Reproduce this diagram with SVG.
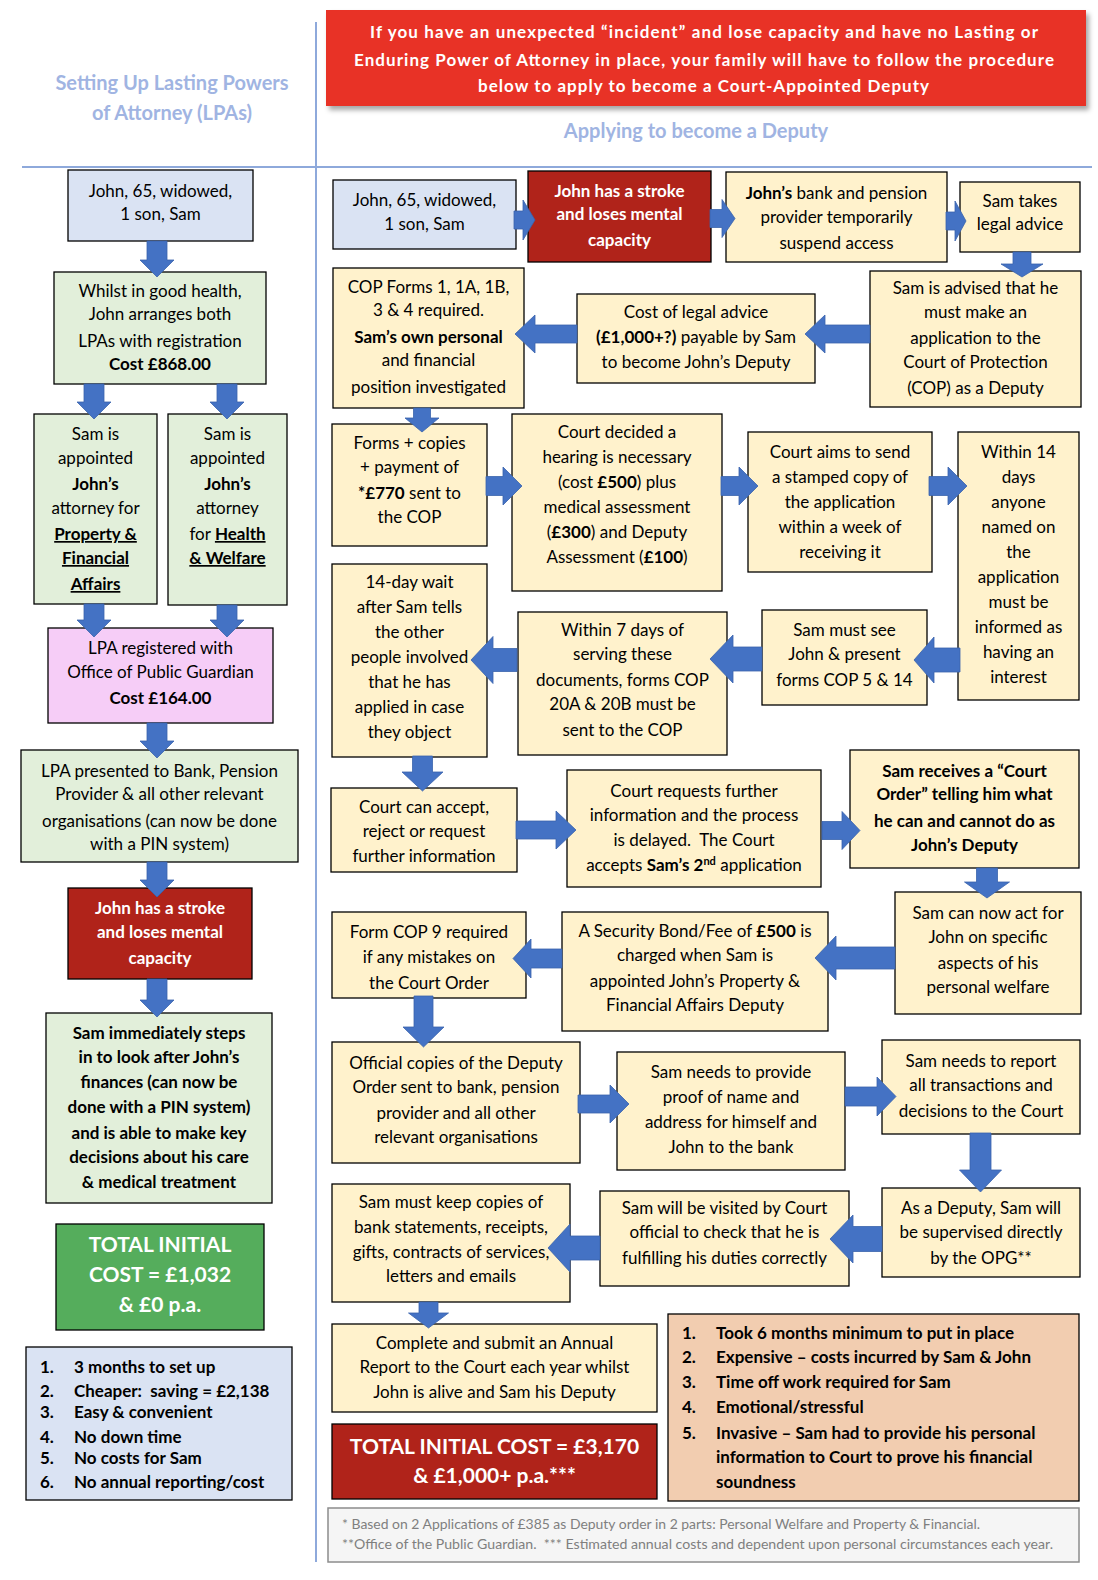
<svg xmlns="http://www.w3.org/2000/svg" width="1098" height="1580" viewBox="0 0 1098 1580">
<defs>
<filter id="sh" x="-5%" y="-10%" width="115%" height="130%"><feDropShadow dx="3" dy="4" stdDeviation="2.5" flood-color="#000" flood-opacity="0.35"/></filter>
<style>
.box{stroke:#000;stroke-width:1.3}
.blue{fill:#DAE3F3}.green{fill:#E2EFDA}.pink{fill:#F6CDF7}.red{fill:#B0231A}.cream{fill:#FFF2CC}.tot{fill:#55AD5C}.orange{fill:#F2CDB0}
.t{font-family:Lato,'Liberation Sans',sans-serif;font-size:17px;fill:#000;text-anchor:middle}
.s{text-anchor:start}
.b{font-weight:bold}
.u{text-decoration:underline}
.w{fill:#fff}
.big{font-size:21px}
.ttl{font-family:Lato,'Liberation Sans',sans-serif;font-size:20px;font-weight:bold;fill:#A0B4E2;text-anchor:middle}
.bn{font-family:Lato,'Liberation Sans',sans-serif;font-size:17px;font-weight:bold;fill:#fff}
.fn{font-family:Lato,'Liberation Sans',sans-serif;font-size:13.5px;fill:#7F7F7F}
.arrow{fill:#4472C4;stroke:#3A63AC;stroke-width:0.8}
.rule{stroke:#8EA9DB;stroke-width:2;fill:none}
</style>
</defs>
<rect width="1098" height="1580" fill="#fff"/>

<g id="layout">
<line class="rule" x1="316" y1="22" x2="316" y2="1562"/>
<line class="rule" x1="22" y1="167" x2="1092" y2="167" stroke="#A9BCE3"/>
<text class="ttl" x="172" y="90">Setting Up Lasting Powers</text>
<text class="ttl" x="172" y="120">of Attorney (LPAs)</text>
<text class="ttl" x="696" y="138">Applying to become a Deputy</text>
</g>

<g id="banner">
<rect x="326" y="10" width="760" height="96" fill="#E83325" filter="url(#sh)"/>
<text class="bn" x="370" y="38" textLength="668" lengthAdjust="spacing">If you have an unexpected “incident” and lose capacity and have no Lasting or</text>
<text class="bn" x="354" y="66" textLength="700" lengthAdjust="spacing">Enduring Power of Attorney in place, your family will have to follow the procedure</text>
<text class="bn" x="478" y="92" textLength="451" lengthAdjust="spacing">below to apply to become a Court-Appointed Deputy</text>
</g>

<!-- LEFT COLUMN -->
<g id="l-john">
<rect class="box blue" x="68" y="170" width="185" height="71"/>
<text class="t" x="160.5" y="197">John, 65, widowed,</text>
<text class="t" x="160.5" y="220">1 son, Sam</text>
</g>
<g id="l-arranges">
<rect class="box green" x="54" y="272" width="212" height="112"/>
<text class="t" x="160" y="297">Whilst in good health,</text>
<text class="t" x="160" y="320">John arranges both</text>
<text class="t" x="160" y="347">LPAs with registration</text>
<text class="t b" x="160" y="370">Cost £868.00</text>
</g>
<g id="l-property">
<rect class="box green" x="34" y="414" width="123" height="190"/>
<text class="t" x="95.5" y="440">Sam is</text>
<text class="t" x="95.5" y="464">appointed</text>
<text class="t b" x="95.5" y="490">John’s</text>
<text class="t" x="95.5" y="514">attorney for</text>
<text class="t b u" x="95.5" y="540">Property &amp;</text>
<text class="t b u" x="95.5" y="564">Financial</text>
<text class="t b u" x="95.5" y="590">Affairs</text>
</g>
<g id="l-health">
<rect class="box green" x="168" y="414" width="119" height="191"/>
<text class="t" x="227.5" y="440">Sam is</text>
<text class="t" x="227.5" y="464">appointed</text>
<text class="t b" x="227.5" y="490">John’s</text>
<text class="t" x="227.5" y="514">attorney</text>
<text class="t" x="227.5" y="540">for <tspan class="b u">Health</tspan></text>
<text class="t b u" x="227.5" y="564">&amp; Welfare</text>
</g>
<g id="l-registered">
<rect class="box pink" x="48" y="628" width="225" height="95"/>
<text class="t" x="160.5" y="654">LPA registered with</text>
<text class="t" x="160.5" y="678">Office of Public Guardian</text>
<text class="t b" x="160.5" y="704">Cost £164.00</text>
</g>
<g id="l-presented">
<rect class="box green" x="21" y="750" width="277" height="112"/>
<text class="t" x="159.5" y="777">LPA presented to Bank, Pension</text>
<text class="t" x="159.5" y="800">Provider &amp; all other relevant</text>
<text class="t" x="159.5" y="827">organisations (can now be done</text>
<text class="t" x="159.5" y="850">with a PIN system)</text>
</g>
<g id="l-stroke">
<rect class="box red" x="68" y="888" width="184" height="91"/>
<text class="t b w" x="160" y="914">John has a stroke</text>
<text class="t b w" x="160" y="938">and loses mental</text>
<text class="t b w" x="160" y="964">capacity</text>
</g>
<g id="l-steps">
<rect class="box green" x="46" y="1013" width="226" height="190"/>
<text class="t b" x="159" y="1039">Sam immediately steps</text>
<text class="t b" x="159" y="1063">in to look after John’s</text>
<text class="t b" x="159" y="1088">finances (can now be</text>
<text class="t b" x="159" y="1113">done with a PIN system)</text>
<text class="t b" x="159" y="1139">and is able to make key</text>
<text class="t b" x="159" y="1163">decisions about his care</text>
<text class="t b" x="159" y="1188">&amp; medical treatment</text>
</g>
<g id="l-total">
<rect class="box tot" x="56" y="1224" width="208" height="106"/>
<text class="t b w big" x="160" y="1252">TOTAL INITIAL</text>
<text class="t b w big" x="160" y="1282">COST = £1,032</text>
<text class="t b w big" x="160" y="1312">&amp; £0 p.a.</text>
</g>
<g id="l-list">
<rect class="box blue" x="26" y="1347" width="266" height="153"/>
<text class="t b s" x="40" y="1373">1.</text><text class="t b s" x="74" y="1373">3 months to set up</text>
<text class="t b s" x="40" y="1397">2.</text><text class="t b s" x="74" y="1397">Cheaper:&#160; saving = £2,138</text>
<text class="t b s" x="40" y="1418">3.</text><text class="t b s" x="74" y="1418">Easy &amp; convenient</text>
<text class="t b s" x="40" y="1443">4.</text><text class="t b s" x="74" y="1443">No down time</text>
<text class="t b s" x="40" y="1464">5.</text><text class="t b s" x="74" y="1464">No costs for Sam</text>
<text class="t b s" x="40" y="1488">6.</text><text class="t b s" x="74" y="1488">No annual reporting/cost</text>
</g>

<!-- RIGHT COLUMN -->
<g id="r-john">
<rect class="box blue" x="333" y="180" width="183" height="69"/>
<text class="t" x="424.5" y="206">John, 65, widowed,</text>
<text class="t" x="424.5" y="230">1 son, Sam</text>
</g>
<g id="r-stroke">
<rect class="box red" x="528" y="171" width="183" height="91"/>
<text class="t b w" x="619.5" y="197">John has a stroke</text>
<text class="t b w" x="619.5" y="220">and loses mental</text>
<text class="t b w" x="619.5" y="246">capacity</text>
</g>
<g id="r-bank">
<rect class="box cream" x="726" y="172" width="221" height="90"/>
<text class="t" x="836.5" y="199"><tspan class="b">John’s</tspan> bank and pension</text>
<text class="t" x="836.5" y="223">provider temporarily</text>
<text class="t" x="836.5" y="249">suspend access</text>
</g>
<g id="r-takes">
<rect class="box cream" x="960" y="182" width="120" height="70"/>
<text class="t" x="1020" y="207">Sam takes</text>
<text class="t" x="1020" y="230">legal advice</text>
</g>
<g id="r-advised">
<rect class="box cream" x="870" y="271" width="211" height="136"/>
<text class="t" x="975.5" y="294">Sam is advised that he</text>
<text class="t" x="975.5" y="318">must make an</text>
<text class="t" x="975.5" y="344">application to the</text>
<text class="t" x="975.5" y="368">Court of Protection</text>
<text class="t" x="975.5" y="394">(COP) as a Deputy</text>
</g>
<g id="r-cost">
<rect class="box cream" x="577" y="294" width="238" height="89"/>
<text class="t" x="696" y="318">Cost of legal advice</text>
<text class="t" x="696" y="343"><tspan class="b">(£1,000+?)</tspan> payable by Sam</text>
<text class="t" x="696" y="368">to become John’s Deputy</text>
</g>
<g id="r-forms">
<rect class="box cream" x="333" y="268" width="191" height="140"/>
<text class="t" x="428.5" y="293">COP Forms 1, 1A, 1B,</text>
<text class="t" x="428.5" y="316">3 &amp; 4 required.</text>
<text class="t b" x="428.5" y="343">Sam’s own personal</text>
<text class="t" x="428.5" y="366">and financial</text>
<text class="t" x="428.5" y="393">position investigated</text>
</g>
<g id="r-payment">
<rect class="box cream" x="332" y="424" width="155" height="122"/>
<text class="t" x="409.5" y="449">Forms + copies</text>
<text class="t" x="409.5" y="473">+ payment of</text>
<text class="t" x="409.5" y="499"><tspan class="b">*£770</tspan> sent to</text>
<text class="t" x="409.5" y="523">the COP</text>
</g>
<g id="r-hearing">
<rect class="box cream" x="512" y="414" width="210" height="177"/>
<text class="t" x="617" y="438">Court decided a</text>
<text class="t" x="617" y="463">hearing is necessary</text>
<text class="t" x="617" y="488">(cost <tspan class="b">£500</tspan>) plus</text>
<text class="t" x="617" y="513">medical assessment</text>
<text class="t" x="617" y="538">(<tspan class="b">£300</tspan>) and Deputy</text>
<text class="t" x="617" y="563">Assessment (<tspan class="b">£100</tspan>)</text>
</g>
<g id="r-stamped">
<rect class="box cream" x="748" y="432" width="184" height="140"/>
<text class="t" x="840" y="458">Court aims to send</text>
<text class="t" x="840" y="483">a stamped copy of</text>
<text class="t" x="840" y="508">the application</text>
<text class="t" x="840" y="533">within a week of</text>
<text class="t" x="840" y="558">receiving it</text>
</g>
<g id="r-within14">
<rect class="box cream" x="958" y="432" width="121" height="268"/>
<text class="t" x="1018.5" y="458">Within 14</text>
<text class="t" x="1018.5" y="483">days</text>
<text class="t" x="1018.5" y="508">anyone</text>
<text class="t" x="1018.5" y="533">named on</text>
<text class="t" x="1018.5" y="558">the</text>
<text class="t" x="1018.5" y="583">application</text>
<text class="t" x="1018.5" y="608">must be</text>
<text class="t" x="1018.5" y="633">informed as</text>
<text class="t" x="1018.5" y="658">having an</text>
<text class="t" x="1018.5" y="683">interest</text>
</g>
<g id="r-wait">
<rect class="box cream" x="332" y="564" width="155" height="193"/>
<text class="t" x="409.5" y="588">14-day wait</text>
<text class="t" x="409.5" y="613">after Sam tells</text>
<text class="t" x="409.5" y="638">the other</text>
<text class="t" x="409.5" y="663">people involved</text>
<text class="t" x="409.5" y="688">that he has</text>
<text class="t" x="409.5" y="713">applied in case</text>
<text class="t" x="409.5" y="738">they object</text>
</g>
<g id="r-within7">
<rect class="box cream" x="518" y="612" width="209" height="143"/>
<text class="t" x="622.5" y="636">Within 7 days of</text>
<text class="t" x="622.5" y="660">serving these</text>
<text class="t" x="622.5" y="686">documents, forms COP</text>
<text class="t" x="622.5" y="710">20A &amp; 20B must be</text>
<text class="t" x="622.5" y="736">sent to the COP</text>
</g>
<g id="r-present">
<rect class="box cream" x="762" y="610" width="165" height="95"/>
<text class="t" x="844.5" y="636">Sam must see</text>
<text class="t" x="844.5" y="660">John &amp; present</text>
<text class="t" x="844.5" y="686">forms COP 5 &amp; 14</text>
</g>
<g id="r-accept">
<rect class="box cream" x="331" y="788" width="186" height="84"/>
<text class="t" x="424" y="813">Court can accept,</text>
<text class="t" x="424" y="837">reject or request</text>
<text class="t" x="424" y="862">further information</text>
</g>
<g id="r-requests">
<rect class="box cream" x="567" y="770" width="254" height="117"/>
<text class="t" x="694" y="797">Court requests further</text>
<text class="t" x="694" y="821">information and the process</text>
<text class="t" x="694" y="846">is delayed.&#160; The Court</text>
<text class="t" x="694" y="871">accepts <tspan class="b">Sam’s 2</tspan><tspan class="b" font-size="11" dy="-6">nd</tspan><tspan dy="6"> application</tspan></text>
</g>
<g id="r-order">
<rect class="box cream" x="850" y="750" width="229" height="118"/>
<text class="t b" x="964.5" y="777">Sam receives a “Court</text>
<text class="t b" x="964.5" y="800">Order” telling him what</text>
<text class="t b" x="964.5" y="827">he can and cannot do as</text>
<text class="t b" x="964.5" y="851">John’s Deputy</text>
</g>
<g id="r-act">
<rect class="box cream" x="895" y="892" width="186" height="122"/>
<text class="t" x="988" y="919">Sam can now act for</text>
<text class="t" x="988" y="943">John on specific</text>
<text class="t" x="988" y="969">aspects of his</text>
<text class="t" x="988" y="993">personal welfare</text>
</g>
<g id="r-bond">
<rect class="box cream" x="562" y="912" width="266" height="119"/>
<text class="t" x="695" y="937">A Security Bond/Fee of <tspan class="b">£500</tspan> is</text>
<text class="t" x="695" y="961">charged when Sam is</text>
<text class="t" x="695" y="987">appointed John’s Property &amp;</text>
<text class="t" x="695" y="1011">Financial Affairs Deputy</text>
</g>
<g id="r-cop9">
<rect class="box cream" x="332" y="912" width="194" height="86"/>
<text class="t" x="429" y="938">Form COP 9 required</text>
<text class="t" x="429" y="963">if any mistakes on</text>
<text class="t" x="429" y="989">the Court Order</text>
</g>
<g id="r-official">
<rect class="box cream" x="332" y="1042" width="248" height="121"/>
<text class="t" x="456" y="1069">Official copies of the Deputy</text>
<text class="t" x="456" y="1093">Order sent to bank, pension</text>
<text class="t" x="456" y="1119">provider and all other</text>
<text class="t" x="456" y="1143">relevant organisations</text>
</g>
<g id="r-proof">
<rect class="box cream" x="617" y="1052" width="228" height="118"/>
<text class="t" x="731" y="1078">Sam needs to provide</text>
<text class="t" x="731" y="1103">proof of name and</text>
<text class="t" x="731" y="1128">address for himself and</text>
<text class="t" x="731" y="1153">John to the bank</text>
</g>
<g id="r-report">
<rect class="box cream" x="882" y="1040" width="198" height="94"/>
<text class="t" x="981" y="1067">Sam needs to report</text>
<text class="t" x="981" y="1091">all transactions and</text>
<text class="t" x="981" y="1117">decisions to the Court</text>
</g>
<g id="r-supervised">
<rect class="box cream" x="882" y="1188" width="198" height="89"/>
<text class="t" x="981" y="1214">As a Deputy, Sam will</text>
<text class="t" x="981" y="1238">be supervised directly</text>
<text class="t" x="981" y="1264">by the OPG**</text>
</g>
<g id="r-visited">
<rect class="box cream" x="600" y="1191" width="249" height="95"/>
<text class="t" x="724.5" y="1214">Sam will be visited by Court</text>
<text class="t" x="724.5" y="1238">official to check that he is</text>
<text class="t" x="724.5" y="1264">fulfilling his duties correctly</text>
</g>
<g id="r-keep">
<rect class="box cream" x="332" y="1184" width="238" height="118"/>
<text class="t" x="451" y="1208">Sam must keep copies of</text>
<text class="t" x="451" y="1233">bank statements, receipts,</text>
<text class="t" x="451" y="1258">gifts, contracts of services,</text>
<text class="t" x="451" y="1282">letters and emails</text>
</g>
<g id="r-annual">
<rect class="box cream" x="332" y="1324" width="325" height="88"/>
<text class="t" x="494.5" y="1349">Complete and submit an Annual</text>
<text class="t" x="494.5" y="1373">Report to the Court each year whilst</text>
<text class="t" x="494.5" y="1398">John is alive and Sam his Deputy</text>
</g>
<g id="r-total">
<rect class="box red" x="332" y="1424" width="325" height="75"/>
<text class="t b w big" x="494.5" y="1454">TOTAL INITIAL COST = £3,170</text>
<text class="t b w big" x="494.5" y="1483">&amp; £1,000+ p.a.***</text>
</g>
<g id="r-list">
<rect class="box orange" x="668" y="1314" width="411" height="187"/>
<text class="t b s" x="682" y="1339">1.</text><text class="t b s" x="716" y="1339">Took 6 months minimum to put in place</text>
<text class="t b s" x="682" y="1363">2.</text><text class="t b s" x="716" y="1363">Expensive – costs incurred by Sam &amp; John</text>
<text class="t b s" x="682" y="1388">3.</text><text class="t b s" x="716" y="1388">Time off work required for Sam</text>
<text class="t b s" x="682" y="1413">4.</text><text class="t b s" x="716" y="1413">Emotional/stressful</text>
<text class="t b s" x="682" y="1439">5.</text><text class="t b s" x="716" y="1439">Invasive – Sam had to provide his personal</text>
<text class="t b s" x="716" y="1463">information to Court to prove his financial</text>
<text class="t b s" x="716" y="1488">soundness</text>
</g>
<g id="footnote">
<rect x="328" y="1508" width="751" height="54" fill="#F5F5F5" stroke="#8C8C8C" stroke-width="1.5"/>
<text class="fn" x="342" y="1529" textLength="638" lengthAdjust="spacingAndGlyphs">* Based on 2 Applications of £385 as Deputy order in 2 parts: Personal Welfare and Property &amp; Financial.</text>
<text class="fn" x="342" y="1549" textLength="711" lengthAdjust="spacingAndGlyphs">**Office of the Public Guardian.&#160; *** Estimated annual costs and dependent upon personal circumstances each year.</text>
</g>

<g id="connectors">
<path class="arrow" d="M147 241 H167 V260 H174 L157 277 L140 260 H147 Z"/>
<path class="arrow" d="M84 384 H104 V402 H111 L94 419 L77 402 H84 Z"/>
<path class="arrow" d="M217 384 H237 V402 H244 L227 419 L210 402 H217 Z"/>
<path class="arrow" d="M84 604 H104 V620 H111 L94 637 L77 620 H84 Z"/>
<path class="arrow" d="M217 605 H237 V620 H244 L227 637 L210 620 H217 Z"/>
<path class="arrow" d="M147 723 H167 V741 H174 L157 758 L140 741 H147 Z"/>
<path class="arrow" d="M147 862 H167 V880 H174 L157 897 L140 880 H147 Z"/>
<path class="arrow" d="M147 979 H167 V1000 H174 L157 1017 L140 1000 H147 Z"/>

<path class="arrow" d="M514 211 H523 V200 L535 220 L523 240 V229 H514 Z"/>
<path class="arrow" d="M710 209.5 H722 V199.5 L735 218.5 L722 237.5 V227.5 H710 Z"/>
<path class="arrow" d="M946 212 H955 V201 L966 221 L955 241 V230 H946 Z"/>
<path class="arrow" d="M1013 252 H1031 V264 H1043 L1022 277 L1001 264 H1013 Z"/>
<path class="arrow" d="M870 325 H825 V315 L805 334 L825 353 V343 H870 Z"/>
<path class="arrow" d="M577 325 H535 V315 L515 334 L535 353 V343 H577 Z"/>
<path class="arrow" d="M413.5 408 H430.5 V418 H439 L422 432 L405 418 H413.5 Z"/>
<path class="arrow" d="M486 476.5 H503 V467 L522 486 L503 505 V495.5 H486 Z"/>
<path class="arrow" d="M721 476.5 H739 V467 L758 486 L739 505 V495.5 H721 Z"/>
<path class="arrow" d="M929 476.5 H948 V467 L967 486 L948 505 V495.5 H929 Z"/>
<path class="arrow" d="M960 648 H934 V637 L914 660 L934 683 V672 H960 Z"/>
<path class="arrow" d="M762 647 H733 V635 L710 659 L733 683 V671 H762 Z"/>
<path class="arrow" d="M517 648.5 H493 V636.5 L471 660 L493 683.5 V671.5 H517 Z"/>
<path class="arrow" d="M412.5 756 H432.5 V772 H443 L422.5 791 L402 772 H412.5 Z"/>
<path class="arrow" d="M516 821 H556 V811 L576 830 L556 849 V839 H516 Z"/>
<path class="arrow" d="M822 821.5 H842 V811.5 L860 830.5 L842 849.5 V839.5 H822 Z"/>
<path class="arrow" d="M976.5 868 H997.5 V882 H1009.5 L987 898 L964.5 882 H976.5 Z"/>
<path class="arrow" d="M895 947 H836 V936 L815 958 L836 980 V969 H895 Z"/>
<path class="arrow" d="M562 949 H531 V939 L513 958.5 L531 978 V968 H562 Z"/>
<path class="arrow" d="M414 996 H433 V1027 H444 L423.5 1047 L403 1027 H414 Z"/>
<path class="arrow" d="M578 1095 H610 V1085 L629 1104 L610 1123 V1113 H578 Z"/>
<path class="arrow" d="M845 1087 H877 V1077 L896 1096.5 L877 1116 V1106 H845 Z"/>
<path class="arrow" d="M970 1133 H991 V1170 H1001.5 L980.5 1192 L959.5 1170 H970 Z"/>
<path class="arrow" d="M882 1226.5 H853 V1215 L830 1239 L853 1263 V1251.5 H882 Z"/>
<path class="arrow" d="M600 1236 H570 V1224 L548 1248 L570 1272 V1260 H600 Z"/>
<path class="arrow" d="M419 1302 H438 V1313 H448.5 L428.5 1328 L408.5 1313 H419 Z"/>
</g>
</svg>
